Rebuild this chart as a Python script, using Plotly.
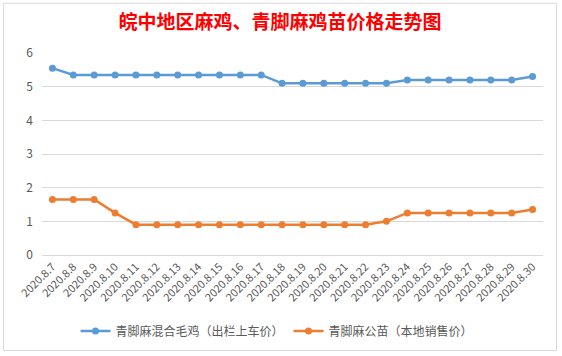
import plotly.graph_objects as go

dates = ["2020.8.7", "2020.8.8", "2020.8.9", "2020.8.10", "2020.8.11", "2020.8.12",
         "2020.8.13", "2020.8.14", "2020.8.15", "2020.8.16", "2020.8.17", "2020.8.18",
         "2020.8.19", "2020.8.20", "2020.8.21", "2020.8.22", "2020.8.23", "2020.8.24",
         "2020.8.25", "2020.8.26", "2020.8.27", "2020.8.28", "2020.8.29", "2020.8.30"]
mixed_chicken = [5.55, 5.35, 5.35, 5.35, 5.35, 5.35, 5.35, 5.35, 5.35, 5.35, 5.35, 5.1,
                 5.1, 5.1, 5.1, 5.1, 5.1, 5.2, 5.2, 5.2, 5.2, 5.2, 5.2, 5.3]
male_chick = [1.65, 1.65, 1.65, 1.25, 0.9, 0.9, 0.9, 0.9, 0.9, 0.9, 0.9, 0.9,
              0.9, 0.9, 0.9, 0.9, 1.0, 1.25, 1.25, 1.25, 1.25, 1.25, 1.25, 1.35]
series_names = ["青脚麻混合毛鸡（出栏上车价）", "青脚麻公苗（本地销售价）"]
title_text = "皖中地区麻鸡、青脚麻鸡苗价格走势图"

W, H = 562, 356
L, R, T, B = 41.5, 18.5, 53, 100
pw, ph = W - L - R, H - T - B

def px(x):
    return (x - L) / pw

def py(y):
    return (H - B - y) / ph

fig = go.Figure()
fig.add_trace(go.Scatter(x=dates, y=mixed_chicken, name=series_names[0], mode="lines+markers",
                         line=dict(color="#5B9BD5", width=2.5),
                         marker=dict(color="#5B9BD5", size=7)))
fig.add_trace(go.Scatter(x=dates, y=male_chick, name=series_names[1], mode="lines+markers",
                         line=dict(color="#ED7D31", width=2.5),
                         marker=dict(color="#ED7D31", size=7)))

fig.update_layout(
    width=W, height=H,
    margin=dict(l=L, r=R, t=T, b=B, pad=0),
    paper_bgcolor="white", plot_bgcolor="white",
    font=dict(family="Noto Sans CJK SC", color="#595959"),
    title=dict(text="<b>" + title_text + "</b>", x=280 / W, xanchor="center", xref="container",
               y=1 - 22 / H, yanchor="middle", yref="container",
               font=dict(family="Noto Sans CJK SC", size=19, color="#FF0000")),
    showlegend=True,
    legend=dict(orientation="h", x=px(277), xanchor="center", y=py(331), yanchor="middle",
                font=dict(size=12, color="#595959"), itemwidth=30, bgcolor="rgba(0,0,0,0)"),
    hovermode=False,
    xaxis=dict(type="category", tickangle=-45, tickfont=dict(size=11, color="#595959"),
               showgrid=False, showline=True, linecolor="#D9D9D9", ticks="",
               range=[-0.5, len(dates) - 0.5], fixedrange=True),
    yaxis=dict(range=[0, 6], dtick=1, showgrid=True, gridcolor="#D9D9D9", gridwidth=1,
               zeroline=False, showline=False, tickfont=dict(size=12, color="#595959"),
               ticks="", ticklabelstandoff=8, fixedrange=True),
    shapes=[dict(type="rect", xref="paper", yref="paper",
                 x0=px(3), x1=px(557), y0=py(352), y1=py(3),
                 line=dict(color="#D9D9D9", width=1), fillcolor="rgba(0,0,0,0)", layer="below")],
)

fig.write_html("out.html", config={"displayModeBar": False},
               post_script="document.body.style.margin='0';document.body.style.overflow='hidden';")
